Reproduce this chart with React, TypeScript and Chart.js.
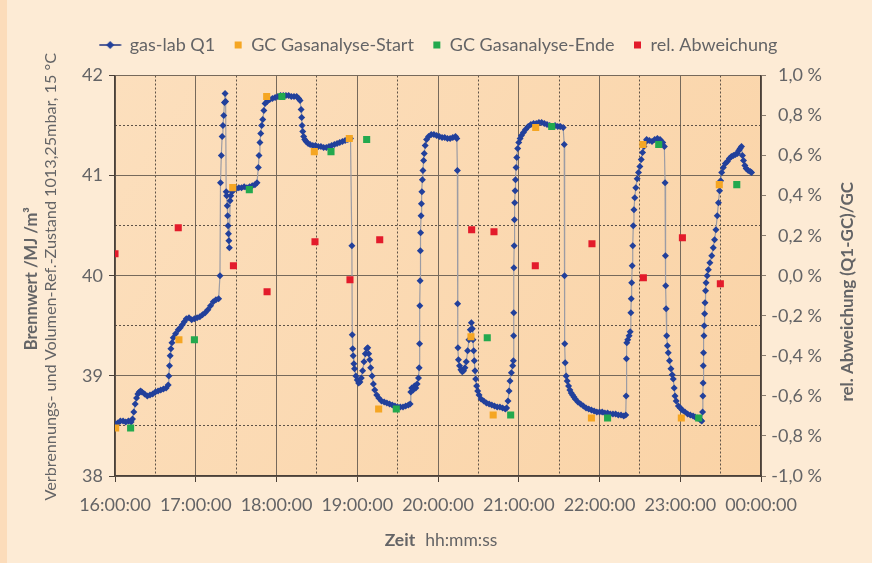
import React, { useEffect, useRef } from "react";
import { Chart, registerables } from "chart.js";

Chart.register(...registerables);

// ---------- data ----------
// time axis: minutes after 16:00:00
const X_MIN = 0;
const X_MAX = 480;
const START_HOUR = 16;

// gas-lab Q1 [minute, MJ/m³]
const q1Series: [number, number][] = [
  [0, 38.52], [2, 38.53], [4, 38.55], [6, 38.55], [8, 38.54], [10, 38.55], [12, 38.54], [13, 38.57],
  [14, 38.64], [15, 38.72], [16, 38.78], [17, 38.82], [18, 38.84], [19, 38.85], [20, 38.84], [22, 38.82],
  [24, 38.8], [26, 38.81], [28, 38.82], [30, 38.84], [32, 38.85], [34, 38.86], [36, 38.87], [38, 38.88],
  [39.5, 38.91], [40, 39.0], [40.5, 39.1], [41, 39.2], [41.5, 39.27], [42.3, 39.33], [43.3, 39.38],
  [45, 39.42], [47, 39.46], [48.5, 39.48], [50, 39.51], [51.5, 39.54], [53, 39.57], [55, 39.58],
  [57, 39.56], [59, 39.57], [61, 39.58], [63, 39.59], [65, 39.61], [67, 39.63], [69, 39.66], [71, 39.7],
  [73, 39.74], [75, 39.76], [77, 39.77],
  [78, 40.0], [78.4, 40.93], [79, 41.2], [79.6, 41.39], [80.2, 41.5], [80.8, 41.6], [81.3, 41.73],
  [81.8, 41.82], [82.2, 41.74], [82.6, 40.84], [83, 40.8], [83.4, 40.7], [83.7, 40.6], [84, 40.5],
  [84.3, 40.42], [84.6, 40.35], [85, 40.28], [85.5, 40.75], [86, 40.8], [87, 40.84], [88, 40.86],
  [90, 40.87], [92, 40.88], [94, 40.88], [96, 40.89], [98, 40.88], [100, 40.89], [102, 40.9], [104, 40.91],
  [105.5, 40.93],
  [106.5, 41.08], [107, 41.2], [107.7, 41.33], [108.3, 41.42], [109, 41.5], [109.8, 41.56], [110.6, 41.65],
  [111.5, 41.72], [113, 41.74], [115, 41.76], [117, 41.77], [119, 41.78], [121, 41.79], [123, 41.8],
  [125, 41.8], [127, 41.8], [129, 41.8], [131, 41.79], [133, 41.79], [135, 41.79], [136.5, 41.77],
  [137.5, 41.75],
  [138.3, 41.66], [138.7, 41.58], [139, 41.5], [139.5, 41.44], [140.2, 41.39], [141, 41.36], [142, 41.34],
  [143.5, 41.32], [145, 41.31], [147, 41.3], [149, 41.3], [151, 41.29], [153, 41.29], [155, 41.28],
  [157, 41.28], [159, 41.29], [161, 41.3], [163, 41.31], [165, 41.32], [167, 41.33], [169, 41.34],
  [171, 41.35], [173, 41.36], [175, 41.37],
  [176, 40.3], [176.3, 39.41], [176.6, 39.27], [177, 39.2], [177.5, 39.12], [178, 39.07], [179, 39.0],
  [180, 38.96], [181, 38.93], [182, 38.94], [183, 38.98], [184, 39.05], [185, 39.14], [186, 39.22],
  [187, 39.27], [187.8, 39.28], [188.5, 39.22], [189.3, 39.16], [190, 39.08], [191, 39.0], [192, 38.92],
  [193, 38.86], [194.5, 38.81], [196, 38.78], [198, 38.75], [200, 38.74], [202, 38.73], [204, 38.72],
  [206, 38.71], [208, 38.7], [210, 38.69], [212, 38.69], [214, 38.69], [216, 38.7], [218, 38.71],
  [219.3, 38.72], [219.8, 38.84], [220.5, 38.88], [221.5, 38.86], [222.5, 38.9], [223.5, 38.88],
  [224.5, 38.92], [225.5, 38.98], [226, 39.08],
  [226.3, 39.32], [226.5, 39.7], [226.7, 39.95], [226.9, 40.25], [227.1, 40.43], [227.4, 40.6],
  [227.7, 40.72], [228, 40.84], [228.4, 40.96], [228.8, 41.05], [229.3, 41.15], [229.8, 41.22],
  [230.5, 41.3], [231.5, 41.36], [233, 41.39], [235, 41.41], [237, 41.41], [239, 41.4], [241, 41.39],
  [243, 41.38], [245, 41.38], [247, 41.37], [249, 41.37], [251, 41.38], [253, 41.39], [254, 41.37],
  [254.4, 41.05], [254.6, 39.72], [254.8, 39.28], [255.2, 39.16], [256, 39.1], [257, 39.06], [258, 39.04],
  [259, 39.05], [260, 39.08], [261, 39.14], [262, 39.25], [263, 39.36], [264, 39.46], [264.8, 39.53],
  [265.5, 39.47], [266, 39.36], [266.5, 39.25], [267, 39.15], [267.5, 39.05], [268, 38.97], [268.7, 38.9],
  [269.5, 38.85], [270.5, 38.81], [272, 38.77], [274, 38.75], [276, 38.73], [278, 38.72], [280, 38.71],
  [282, 38.7], [284, 38.69], [286, 38.69], [288, 38.68], [290, 38.67], [291, 38.68], [292, 38.75],
  [292.8, 38.85], [293.5, 38.95], [294.5, 39.03], [295.5, 39.1], [296, 39.15],
  [296.2, 39.4], [296.3, 39.63], [296.4, 40.08], [296.6, 40.3], [296.8, 40.56], [297, 40.73],
  [297.3, 40.85], [297.6, 40.96], [298, 41.08], [298.5, 41.18], [299.2, 41.27], [300, 41.33], [301, 41.37],
  [302, 41.4], [303.5, 41.43], [305, 41.46], [307, 41.49], [309, 41.51], [311, 41.52], [313, 41.52],
  [315, 41.53], [317, 41.53], [319, 41.52], [321, 41.51], [323, 41.5], [325, 41.49], [327, 41.5],
  [329, 41.49], [331, 41.49], [333, 41.48],
  [333.8, 41.31], [334, 40.0], [334.2, 39.32], [334.5, 39.13], [335.2, 39.0], [336, 38.95], [337, 38.9],
  [338, 38.86], [339, 38.83], [340, 38.81], [341, 38.79], [342, 38.77], [344, 38.74], [346, 38.72],
  [348, 38.7], [350, 38.68], [352, 38.67], [354, 38.66], [356, 38.65], [358, 38.64], [360, 38.64],
  [362, 38.64], [364, 38.63], [366, 38.63], [368, 38.62], [370, 38.62], [372, 38.62], [374, 38.61],
  [376, 38.61], [378, 38.6], [379.5, 38.61],
  [379.8, 38.8], [380, 39.17], [380.3, 39.33], [381, 39.36], [382, 39.4], [382.8, 39.44], [383.3, 39.63],
  [383.6, 39.77], [383.9, 39.93], [384.3, 40.1], [384.7, 40.3], [385.1, 40.5], [385.6, 40.66],
  [386.2, 40.78], [387, 40.88], [388, 40.97], [389, 41.03], [390, 41.09], [391, 41.16], [392, 41.23],
  [393, 41.29], [394, 41.33], [395, 41.36], [397, 41.35], [399, 41.34], [401, 41.36], [403, 41.37],
  [405, 41.36], [407, 41.33], [408.2, 41.29],
  [408.7, 40.93], [409, 40.2], [409.2, 39.9], [409.5, 39.67], [409.9, 39.4], [410.5, 39.3], [411.1, 39.23],
  [412, 39.15], [413.1, 39.07], [414, 39.01], [414.8, 38.97], [415.5, 38.88], [416.1, 38.8], [417, 38.75],
  [418.6, 38.7], [420, 38.68], [421.5, 38.66], [423.5, 38.64], [425.5, 38.62], [427.5, 38.61],
  [429.5, 38.6], [431, 38.59], [433, 38.58], [435, 38.56], [436, 38.55],
  [436.6, 38.64], [436.8, 38.8], [437, 38.93], [437.1, 39.1], [437.3, 39.23], [437.6, 39.4], [437.8, 39.5],
  [438.1, 39.62], [438.4, 39.73], [438.8, 39.85], [439.2, 39.93], [440, 40.0], [440.9, 40.06], [442, 40.13],
  [443.4, 40.2], [444.5, 40.28], [445.5, 40.36], [446.5, 40.46], [447.5, 40.6], [448.4, 40.73],
  [449.2, 40.85], [450, 40.95], [450.8, 41.03], [452, 41.08], [453.5, 41.12], [455, 41.14], [456.5, 41.17],
  [458, 41.19], [459.5, 41.2], [461, 41.21], [462.5, 41.22], [463.5, 41.25], [464.5, 41.27], [465.5, 41.29],
  [466.2, 41.2], [467, 41.15], [468, 41.1], [469, 41.07], [470.5, 41.05], [472, 41.04], [473, 41.03],
];

// GC Gasanalyse-Start
const gcStartMinutes = [0.5, 47.5, 87.5, 112.7, 148.1, 174.1, 195.9, 264.5, 281, 312.6, 354, 392.3, 420.8, 449];
const gcStartValues = [38.48, 39.36, 40.88, 41.79, 41.24, 41.37, 38.67, 39.39, 38.61, 41.48, 38.58, 41.31, 38.58, 40.91];

// GC Gasanalyse-Ende
const gcEndMinutes = [11.6, 59, 99.8, 124, 160.5, 187, 209, 276.6, 294, 324.5, 366, 404, 433.7, 462];
const gcEndValues = [38.48, 39.36, 40.86, 41.79, 41.24, 41.36, 38.67, 39.38, 38.61, 41.49, 38.58, 41.31, 38.58, 40.91];

// rel. Abweichung (Q1-GC)/GC in %
const devMinutes = [0, 47, 88, 113, 148.6, 174.6, 196.7, 265, 281.6, 312.3, 354.4, 392.6, 421.6, 449.8];
const devPercent = [0.11, 0.24, 0.05, -0.08, 0.17, -0.02, 0.18, 0.23, 0.22, 0.05, 0.16, -0.01, 0.19, -0.04];

const LEFT_MIN = 38;
const LEFT_MAX = 42;
const RIGHT_MIN = -1;
const RIGHT_MAX = 1;

const seriesLabels = ["gas-lab Q1", "GC Gasanalyse-Start", "GC Gasanalyse-Ende", "rel. Abweichung"];
const leftTitleBold = "Brennwert /MJ /m³";
const leftTitle = "Verbrennungs- und Volumen-Ref.-Zustand 1013,25mbar, 15 °C";
const rightTitle = "rel. Abweichung (Q1-GC)/GC";
const xTitleBold = "Zeit";
const xTitle = "hh:mm:ss";

// ---------- style ----------
const FONT = "Lato, 'Open Sans', sans-serif";
const TEXT = "#646466";
const OUTER_BG = "#FDEBD5";
const EDGE_BG = "#FCDCBA";
const MAJOR = "#76695B";
const MINOR = "#5E5247";
const AXIS = "#4A4038";
const BLUE = "#22409B";
const LINE_GREY = "#9C9CA4";
const ORANGE = "#F5A623";
const GREEN = "#23A94E";
const RED = "#E31B2B";

function hourLabel(v: number) {
  const h = (START_HOUR + Math.round(v / 60)) % 24;
  return String(h).padStart(2, "0") + ":00:00";
}
function pctLabel(v: number) {
  let r = Math.round(v * 10) / 10;
  if (Object.is(r, -0)) r = 0;
  return r.toFixed(1).replace(".", ",") + " %";
}

function makeQ1Icon() {
  const c = document.createElement("canvas");
  c.width = 36;
  c.height = 10;
  const g = c.getContext("2d")!;
  g.strokeStyle = "#1F3380";
  g.lineWidth = 1.5;
  g.beginPath();
  g.moveTo(0.5, 5);
  g.lineTo(22.5, 5);
  g.stroke();
  g.fillStyle = BLUE;
  g.beginPath();
  g.moveTo(7.5, 5);
  g.lineTo(11.5, 1);
  g.lineTo(15.5, 5);
  g.lineTo(11.5, 9);
  g.closePath();
  g.fill();
  return c;
}

const bgPlugin = {
  id: "bgPlugin",
  beforeDraw(chart: any) {
    const { ctx, chartArea: a, width, height } = chart;
    ctx.save();
    ctx.fillStyle = OUTER_BG;
    ctx.fillRect(0, 0, width, height);
    ctx.fillStyle = EDGE_BG;
    ctx.fillRect(0, 0, 7, height);
    const grad = ctx.createLinearGradient(a.left, a.top, a.right, a.bottom);
    grad.addColorStop(0, "#FCDFBD");
    grad.addColorStop(1, "#FAD3A6");
    ctx.fillStyle = grad;
    ctx.fillRect(a.left, a.top, a.right - a.left, a.bottom - a.top);
    ctx.restore();
  },
};

const titlesPlugin = {
  id: "titlesPlugin",
  afterDraw(chart: any) {
    const ctx = chart.ctx as CanvasRenderingContext2D;
    const a = chart.chartArea;
    const midY = (a.top + a.bottom) / 2;
    ctx.save();
    ctx.fillStyle = TEXT;
    ctx.textAlign = "center";
    ctx.textBaseline = "middle";

    ctx.save();
    ctx.translate(32, midY + 3);
    ctx.rotate(-Math.PI / 2);
    ctx.font = `bold 16.5px ${FONT}`;
    ctx.fillText(leftTitleBold, 0, 0);
    ctx.restore();

    ctx.save();
    ctx.translate(51, midY + 1);
    ctx.rotate(-Math.PI / 2);
    ctx.font = `16.2px ${FONT}`;
    ctx.fillText(leftTitle, 0, 0);
    ctx.restore();

    ctx.save();
    ctx.translate(848, midY + 16);
    ctx.rotate(-Math.PI / 2);
    ctx.font = `bold 17px ${FONT}`;
    ctx.fillText(rightTitle, 0, 0);
    ctx.restore();

    ctx.textAlign = "left";
    ctx.font = `bold 17.5px ${FONT}`;
    const w1 = ctx.measureText(xTitleBold).width;
    ctx.font = `17.5px ${FONT}`;
    const w2 = ctx.measureText(xTitle).width;
    const gap = 10;
    const x0 = 441 - (w1 + gap + w2) / 2;
    ctx.font = `bold 17.5px ${FONT}`;
    ctx.fillText(xTitleBold, x0, 540);
    ctx.font = `17.5px ${FONT}`;
    ctx.fillText(xTitle, x0 + w1 + gap, 540);
    ctx.restore();
  },
};

export default function App() {
  const canvasRef = useRef<HTMLCanvasElement | null>(null);

  useEffect(() => {
    document.body.style.margin = "0";
    const canvas = canvasRef.current;
    if (!canvas) return;
    const q1Icon = makeQ1Icon();
    const tickFont = { family: FONT, size: 18 };

    const chart = new Chart(canvas, {
      type: "scatter",
      data: {
        datasets: [
          {
            label: seriesLabels[0],
            data: q1Series.map(([x, y]) => ({ x, y })),
            showLine: true,
            borderColor: LINE_GREY,
            borderWidth: 1.2,
            pointStyle: "rectRot",
            pointRadius: 3.5,
            pointBorderWidth: 0,
            pointBackgroundColor: BLUE,
            backgroundColor: BLUE,
            yAxisID: "y",
            order: 10,
          },
          {
            label: seriesLabels[1],
            data: gcStartMinutes.map((x, i) => ({ x, y: gcStartValues[i] })),
            showLine: false,
            pointStyle: "rect",
            pointRadius: 5,
            borderWidth: 0,
            pointBorderWidth: 0,
            backgroundColor: ORANGE,
            borderColor: ORANGE,
            yAxisID: "y",
            order: 2,
          },
          {
            label: seriesLabels[2],
            data: gcEndMinutes.map((x, i) => ({ x, y: gcEndValues[i] })),
            showLine: false,
            pointStyle: "rect",
            pointRadius: 5,
            borderWidth: 0,
            pointBorderWidth: 0,
            backgroundColor: GREEN,
            borderColor: GREEN,
            yAxisID: "y",
            order: 1,
          },
          {
            label: seriesLabels[3],
            data: devMinutes.map((x, i) => ({ x, y: devPercent[i] })),
            showLine: false,
            pointStyle: "rect",
            pointRadius: 5,
            borderWidth: 0,
            pointBorderWidth: 0,
            backgroundColor: RED,
            borderColor: RED,
            yAxisID: "y2",
            order: 0,
          },
        ],
      },
      options: {
        animation: false,
        responsive: false,
        devicePixelRatio: 1,
        layout: { padding: { top: 17, left: 68, right: 50, bottom: 0 } },
        plugins: {
          tooltip: { enabled: false },
          legend: {
            display: true,
            position: "top",
            weight: 3000,
            labels: {
              usePointStyle: true,
              boxWidth: 8,
              boxHeight: 7,
              padding: 19,
              color: TEXT,
              font: { family: FONT, size: 18 },
              sort: (a: any, b: any) => a.datasetIndex - b.datasetIndex,
              generateLabels: (ch: any) => {
                const items = (Chart.defaults.plugins.legend.labels as any).generateLabels(ch);
                items.forEach((it: any) => {
                  if (it.datasetIndex === 0) it.pointStyle = q1Icon;
                  it.lineWidth = 0;
                });
                return items;
              },
            },
          } as any,
          title: {
            display: true,
            text: "",
            padding: 0,
            font: { size: 10, lineHeight: 1.15 },
          },
        },
        scales: {
          x: {
            type: "linear",
            position: "bottom",
            min: X_MIN,
            max: X_MAX,
            ticks: {
              stepSize: 60,
              autoSkip: false,
              maxRotation: 0,
              color: TEXT,
              font: tickFont,
              padding: 12,
              callback: (v: any) => hourLabel(Number(v)),
            },
            grid: { color: MAJOR, lineWidth: 1, drawTicks: true, tickLength: 6, tickColor: AXIS },
            border: { display: true, color: AXIS, width: 1.5 },
            afterFit: (s: any) => {
              s.height = 87;
            },
          },
          xMinor: {
            type: "linear",
            position: "bottom",
            min: X_MIN,
            max: X_MAX,
            ticks: { display: false, stepSize: 30, autoSkip: false },
            grid: {
              color: (c: any) => (c.tick && Math.abs((c.tick.value % 60) - 30) < 1e-6 ? MINOR : "rgba(0,0,0,0)"),
              lineWidth: 1,
              drawTicks: false,
            },
            border: { display: false, dash: [2, 2] },
            afterFit: (s: any) => {
              s.height = 0;
            },
          },
          y: {
            type: "linear",
            position: "left",
            min: LEFT_MIN,
            max: LEFT_MAX,
            ticks: {
              stepSize: 1,
              color: TEXT,
              font: tickFont,
              padding: 6,
            },
            grid: { color: MAJOR, lineWidth: 1, drawTicks: true, tickLength: 6, tickColor: AXIS },
            border: { display: true, color: AXIS, width: 1.5 },
            afterFit: (s: any) => {
              s.width = 47;
            },
          },
          yMinor: {
            type: "linear",
            position: "left",
            min: LEFT_MIN,
            max: LEFT_MAX,
            ticks: { display: false, stepSize: 0.5 },
            grid: {
              color: (c: any) => (c.tick && Math.abs((c.tick.value % 1) - 0.5) < 1e-6 ? MINOR : "rgba(0,0,0,0)"),
              lineWidth: 1,
              drawTicks: false,
            },
            border: { display: false, dash: [2, 2] },
            afterFit: (s: any) => {
              s.width = 0;
            },
          },
          y2: {
            type: "linear",
            position: "right",
            min: RIGHT_MIN,
            max: RIGHT_MAX,
            ticks: {
              stepSize: 0.2,
              color: TEXT,
              font: tickFont,
              padding: 7,
              crossAlign: "far",
              callback: (v: any) => pctLabel(Number(v)),
            },
            grid: { drawOnChartArea: false, drawTicks: true, tickLength: 5, tickColor: "#8A7D70" },
            border: { display: true, color: AXIS, width: 1.5 },
            afterFit: (s: any) => {
              s.width = 61;
            },
          },
        },
      } as any,
      plugins: [bgPlugin, titlesPlugin],
    });

    return () => chart.destroy();
  }, []);

  return (
    <div style={{ width: 872, height: 563, background: OUTER_BG }}>
      <canvas ref={canvasRef} width={872} height={563} style={{ display: "block" }} />
    </div>
  );
}
